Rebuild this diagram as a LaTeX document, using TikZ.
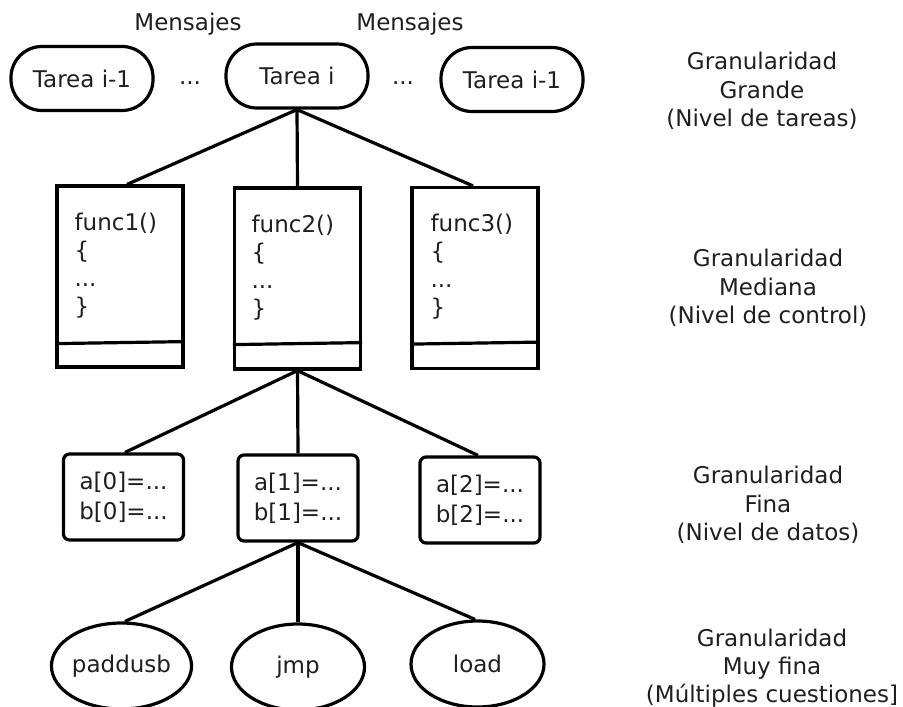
\documentclass[tikz,border=0pt]{standalone}
\usepackage{fontspec}
\setmainfont{DejaVu Sans}
\usetikzlibrary{shapes.geometric}
\begin{document}
\begin{tikzpicture}[x=1pt,y=-1pt,line width=3.2pt,
  every node/.style={font=\fontsize{23}{28.5}\selectfont,inner sep=0pt,text=black!88},
  pill/.style={draw,rounded corners=31pt,minimum width=142pt,minimum height=64pt},
  funcbox/.style={draw,minimum width=126pt,minimum height=181pt},
  databox/.style={draw,rounded corners=6pt,minimum width=120pt,minimum height=86pt,align=center,font=\fontsize{23}{30}\selectfont},
  oval/.style={draw,ellipse,minimum width=133pt,minimum height=86pt},
  lbl/.style={align=center,anchor=north},
  code/.style={align=left,anchor=north west,font=\fontsize{23}{28}\selectfont},
  conn/.style={draw}]
\useasboundingbox (0,0) rectangle (903,707);

% top level
\node[pill] (t0) at (82,78.5) {Tarea i-1};
\node[pill] (t1) at (297,76) {Tarea i};
\node[pill] (t2) at (512,79.5) {Tarea i-1};
\node (d1) at (190,83) {...};
\node (d2) at (403,83) {...};
\node (m1) at (188,24.5) {Mensajes};
\node (m2) at (410,24.5) {Mensajes};

% function boxes
\node[funcbox] (f1) at (120,276.5) {};
\node[funcbox] (f2) at (297.5,278.5) {};
\node[funcbox] (f3) at (475,278) {};
\draw ([yshift=25pt]f1.south west) -- ([yshift=27pt]f1.south east);
\draw ([yshift=26pt]f2.south west) -- ([yshift=28pt]f2.south east);
\draw ([yshift=26pt]f3.south west) -- ([yshift=28pt]f3.south east);
\node[code] (c1) at (73,211.5) {func1()\\\{\\...\\\}};
\node[code] (c2) at (250,213.5) {func2()\\\{\\...\\\}};
\node[code] (c3) at (429,212.5) {func3()\\\{\\...\\\}};

% data boxes
\node[databox] (b0) at (123.5,497) {a[0]=...\\b[0]=...};
\node[databox] (b1) at (298,498) {a[1]=...\\b[1]=...};
\node[databox] (b2) at (480,500) {a[2]=...\\b[2]=...};

% instructions
\node[oval] (e0) at (121.5,666) {paddusb};
\node[oval] (e1) at (298,667) {jmp};
\node[oval] (e2) at (477.5,664) {load};

% connectors
\draw[conn] (t1.south) -- ([xshift=7pt]f1.north);
\draw[conn] (t1.south) -- (f2.north);
\draw[conn] (t1.south) -- ([xshift=-2pt]f3.north);
\draw[conn] (f2.south) -- ([xshift=1.5pt]b0.north);
\draw[conn] (f2.south) -- (b1.north);
\draw[conn] (f2.south) -- ([xshift=-2pt]b2.north);
\draw[conn] (b1.south) -- ([xshift=3.5pt]e0.north);
\draw[conn] (b1.south) -- (e1.north);
\draw[conn] (b1.south) -- ([xshift=-2.5pt]e2.north);

% level labels
\node[lbl] (g1) at (762,50.5) {Granularidad\\Grande\\(Nivel de tareas)};
\node[lbl] (g2) at (768,247.5) {Granularidad\\Mediana\\(Nivel de control)};
\node[lbl] (g3) at (768,464.5) {Granularidad\\Fina\\(Nivel de datos)};
\node[lbl,font=\fontsize{23}{28}\selectfont] (g4) at (772,627) {Granularidad\\Muy fina\\(Múltiples cuestiones]};
\end{tikzpicture}
\end{document}
